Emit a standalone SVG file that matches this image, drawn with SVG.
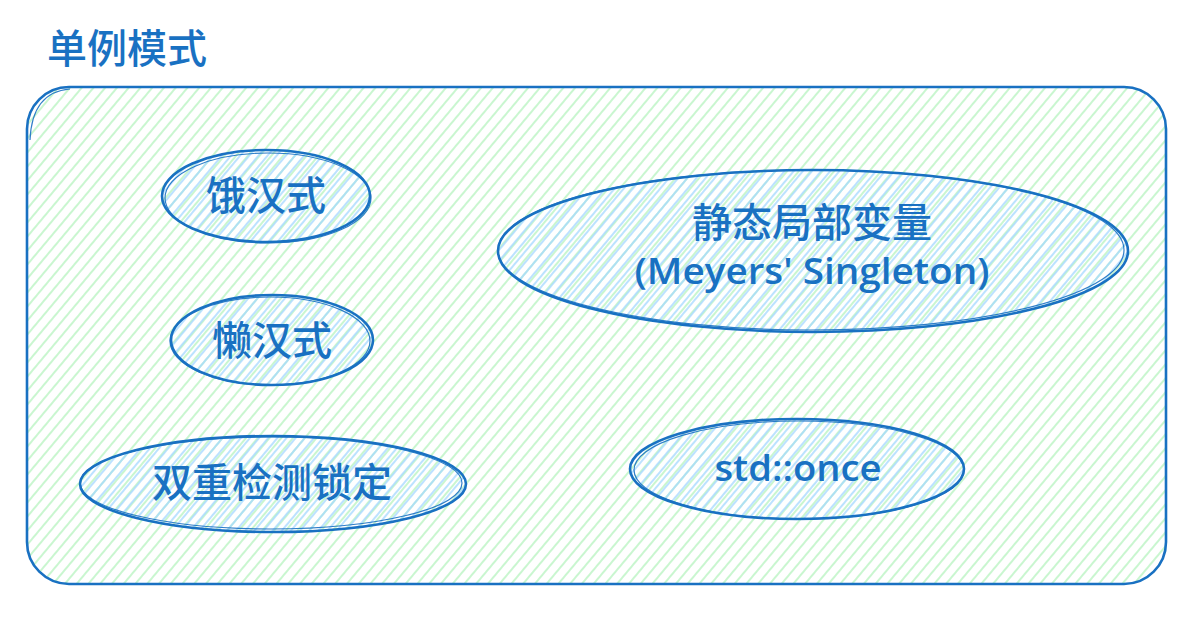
<svg xmlns="http://www.w3.org/2000/svg" width="1202" height="634" viewBox="0 0 1202 634">
<defs>
<pattern id="hg" width="9" height="9" patternUnits="userSpaceOnUse" patternTransform="rotate(40)">
<line x1="2" y1="0" x2="2" y2="9" stroke="#b2f2bb" stroke-width="1.4"/>
</pattern>
<pattern id="hb" width="7" height="7" patternUnits="userSpaceOnUse" patternTransform="rotate(40)">
<line x1="4" y1="0" x2="4" y2="7" stroke="#a5d8ff" stroke-width="1.5"/>
</pattern>
</defs>
<style>
.s{fill:none;stroke:#1971c2;stroke-width:2.6;stroke-linecap:round}
.s2{fill:none;stroke:#1971c2;stroke-width:1.2;opacity:0.9}
.cjk{font-family:"Noto Sans CJK SC","Noto Sans",sans-serif;font-size:40px;font-weight:500;fill:#1971c2}
.lat{font-family:"Open Sans","Noto Sans",sans-serif;font-size:36px;font-weight:600;fill:#1971c2}
</style>
<rect width="1202" height="634" fill="#ffffff"/>
<g id="title">
<text class="cjk" x="47" y="63">单例模式</text>
</g>
<g id="container">
<rect x="27" y="87" width="1139" height="497" rx="42" fill="url(#hg)"/>
<rect x="27" y="87" width="1139" height="497" rx="42" class="s"/>
<path d="M70 89 Q32 92 30 140" class="s2"/>
</g>
<g id="node-ehan">
<ellipse cx="266" cy="196" rx="104" ry="46" fill="url(#hb)"/>
<ellipse cx="266" cy="196" rx="104" ry="46" class="s"/>
<ellipse cx="268" cy="198" rx="103" ry="45" class="s2"/>
<text class="cjk" x="266" y="193" text-anchor="middle" dominant-baseline="central">饿汉式</text>
</g>
<g id="node-lanhan">
<ellipse cx="272" cy="340" rx="101" ry="45" fill="url(#hb)"/>
<ellipse cx="272" cy="340" rx="101" ry="45" class="s"/>
<ellipse cx="270" cy="341" rx="100" ry="44" class="s2"/>
<text class="cjk" x="272" y="338" text-anchor="middle" dominant-baseline="central">懒汉式</text>
</g>
<g id="node-dcl">
<ellipse cx="273" cy="484" rx="193" ry="48" fill="url(#hb)"/>
<ellipse cx="273" cy="484" rx="193" ry="48" class="s"/>
<ellipse cx="271" cy="483" rx="191" ry="46" class="s2"/>
<text class="cjk" x="272" y="480" text-anchor="middle" dominant-baseline="central">双重检测锁定</text>
</g>
<g id="node-meyers">
<ellipse cx="813" cy="251" rx="315" ry="81" fill="url(#hb)"/>
<ellipse cx="813" cy="251" rx="315" ry="81" class="s"/>
<ellipse cx="811" cy="250" rx="313" ry="80" class="s2"/>
<text class="cjk" x="812" y="220" text-anchor="middle" dominant-baseline="central">静态局部变量</text>
<text class="lat" x="812" y="284" text-anchor="middle" textLength="355" lengthAdjust="spacingAndGlyphs">(Meyers' Singleton)</text>
</g>
<g id="node-once">
<ellipse cx="797" cy="469" rx="167" ry="50" fill="url(#hb)"/>
<ellipse cx="797" cy="469" rx="167" ry="50" class="s"/>
<ellipse cx="799" cy="470" rx="165" ry="49" class="s2"/>
<text class="lat" x="798" y="481" text-anchor="middle" textLength="167" lengthAdjust="spacingAndGlyphs">std::once</text>
</g>
<g id="connectors"></g>
</svg>
